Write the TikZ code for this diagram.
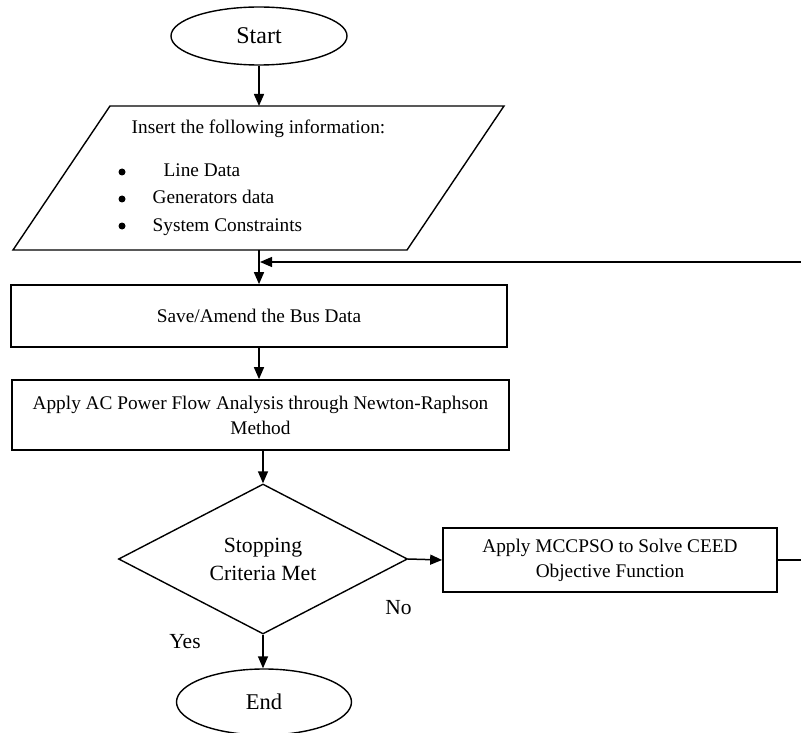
\documentclass[tikz,border=0pt]{standalone}
\usepackage{fontspec}
\setmainfont{Liberation Serif}
\usetikzlibrary{arrows.meta,shapes.geometric}
\begin{document}
\begin{tikzpicture}[x=1pt,y=-1pt,
  line width=1.3pt,
  arr/.style={-{Triangle[length=12pt,width=10pt]}, line width=1.5pt},
  procbox/.style={draw, rectangle, line width=1.7pt, inner sep=0pt, align=center, font=\fontsize{19.3}{25}\selectfont},
  term/.style={draw, ellipse, line width=1.4pt, inner sep=0pt},
  txt/.style={font=\fontsize{19.3}{25}\selectfont, inner sep=0pt},
  lbl/.style={font=\fontsize{21.5}{26}\selectfont, inner sep=0pt},
  bul/.style={circle, fill=black, inner sep=0pt, minimum size=7pt},
]
\useasboundingbox (0,0) rectangle (801,733);

% Start
\node[term, minimum width=176pt, minimum height=58pt, font=\fontsize{24}{28}\selectfont] (start) at (259,36) {Start};

% Input parallelogram
\coordinate (pbl) at (13,250);
\coordinate (ptl) at (110,106);
\coordinate (ptr) at (504,106);
\coordinate (pbr) at (407,250);
\draw[line width=1.4pt] (pbl) -- (ptl) -- (ptr) -- (pbr) -- cycle;
\coordinate (ptop) at (259,106);
\coordinate (pbot) at (259,250);

\node[txt, anchor=base] (ins) at (258.5,134) {Insert the following information:};
\node[bul] (b1) at (122,172) {};
\node[bul] (b2) at (122,199) {};
\node[bul] (b3) at (122,226) {};
\node[txt, anchor=base west] (l1) at (163,177) {Line Data};
\node[txt, anchor=base west] (l2) at (152,204) {Generators data};
\node[txt, anchor=base west] (l3) at (152,231) {System Constraints};

% Process boxes
\node[procbox, minimum width=496pt, minimum height=62pt] (save) at (259,316) {Save/Amend the Bus Data};
\node[procbox, minimum width=497pt, minimum height=70pt] (apply) at (260.5,415) {Apply AC Power Flow Analysis through Newton-Raphson\\Method};

% Decision
\node[draw, diamond, aspect=1.93, minimum width=289pt, minimum height=150pt, inner sep=0pt, line width=1.4pt, align=center, font=\fontsize{21.7}{28}\selectfont] (dec) at (263,559) {Stopping\\Criteria Met};

\node[procbox, minimum width=334pt, minimum height=64pt] (mcc) at (610,560) {Apply MCCPSO to Solve CEED\\Objective Function};

% End
\node[term, minimum width=175pt, minimum height=66pt, font=\fontsize{22.5}{26}\selectfont] (end) at (264,702) {End};

% Labels
\node[lbl] (no) at (398.5,608) {No};
\node[lbl] (yes) at (185,642) {Yes};

% Connectors
\draw[arr] (start.south) -- (ptop);
\draw[arr] (pbot) -- (save.north -| pbot);
\coordinate (fbin) at (801,262);
\coordinate (fbend) at (260,262);
\draw[arr, line width=1.3pt] (fbin) -- (fbend);
\draw[arr] (save.south) -- (save.south |- apply.north);
\draw[arr] (apply.south -| dec.north) -- (dec.north);
\draw[arr] (dec.east) -- (mcc.west);
\coordinate (mout) at (801,560);
\draw[line width=1.5pt] (mcc.east) -- (mout);
\draw[arr] (dec.south) -- (dec.south |- end.north);
\end{tikzpicture}
\end{document}
